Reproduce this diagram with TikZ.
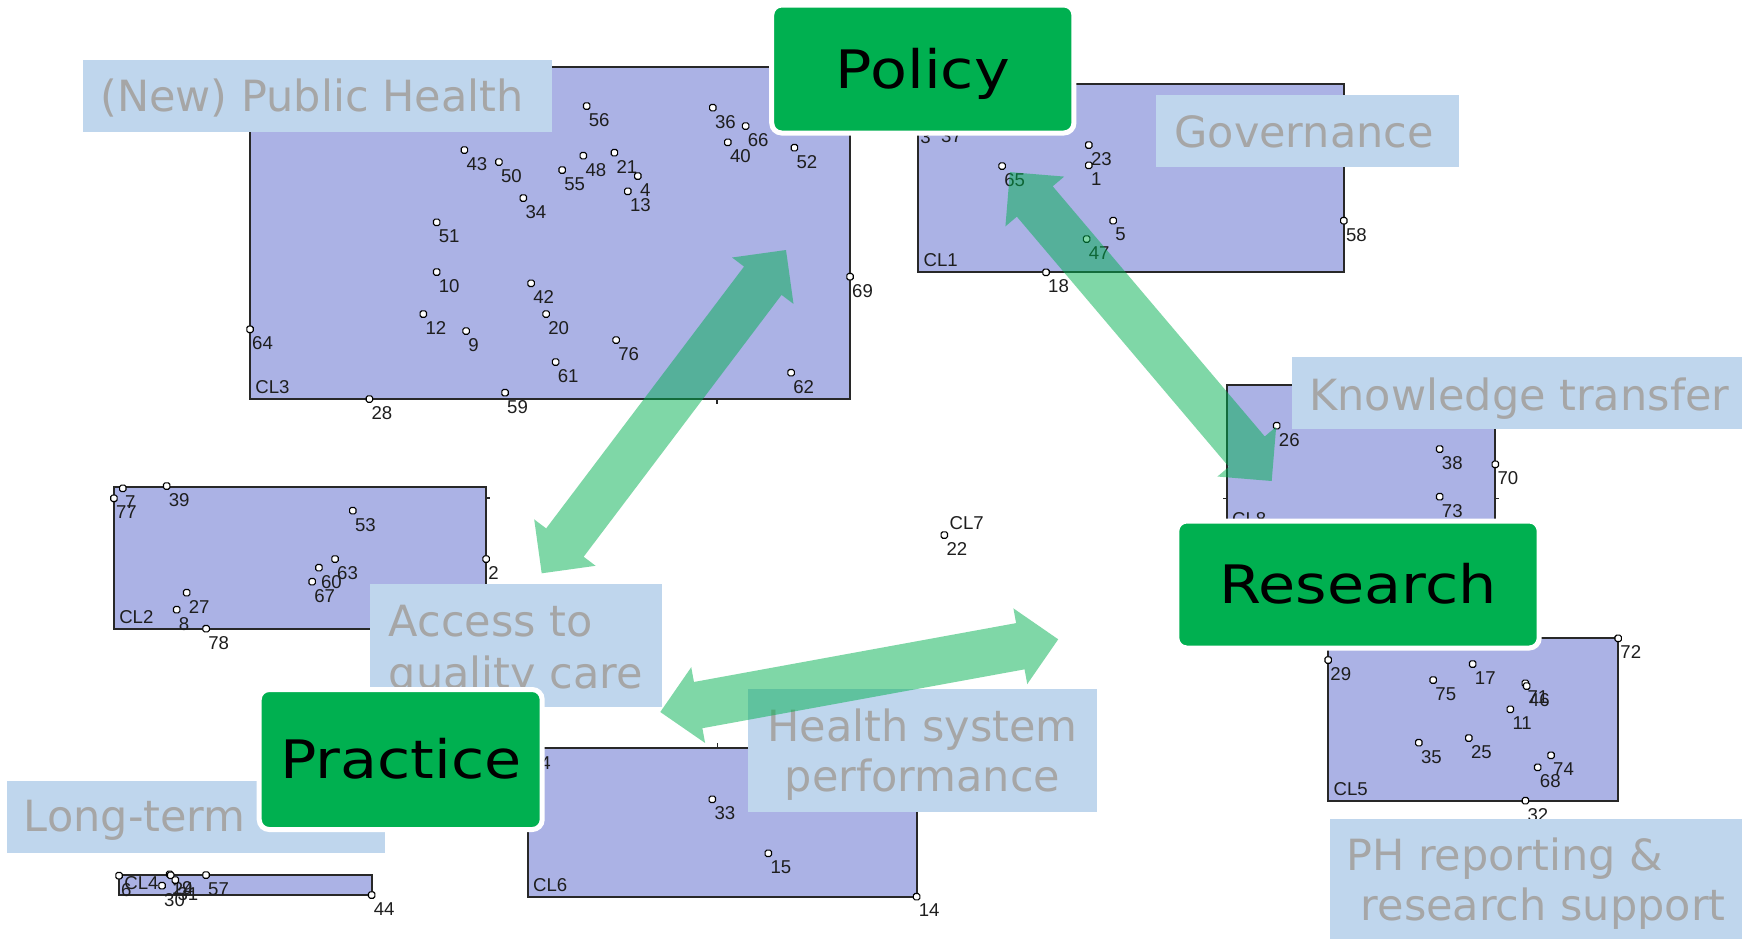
\documentclass[tikz,border=0pt]{standalone}
\usepackage{fontspec}
\setmainfont{Liberation Sans}
\newfontfamily\lblfont{DejaVu Sans}
\newfontfamily\grnfont{DejaVu Sans}[FakeStretch=1.14]
\usetikzlibrary{calc}
\definecolor{clfill}{RGB}{171,178,229}
\definecolor{clline}{RGB}{40,40,40}
\definecolor{boxblue}{RGB}{191,214,237}
\definecolor{lblgray}{RGB}{166,166,166}
\definecolor{pgreen}{RGB}{0,176,80}
\definecolor{numcol}{RGB}{30,30,30}
\tikzset{
  clrect/.style={fill=clfill, draw=clline, line width=1pt},
  tickline/.style={draw=clline, line width=0.7pt},
  mk/.style={rectangle, rounded corners=0.8pt, minimum size=3.2pt, inner sep=0pt, fill=white, draw=black, line width=0.55pt},
  num/.style={inner sep=0pt, font=\fontsize{9.3}{11}\selectfont, text=numcol},
  lblbox/.style={fill=boxblue},
  lbltxt/.style={inner sep=0pt, font=\lblfont\fontsize{21.5}{26}\selectfont, text=lblgray},
  grnbox/.style={rectangle, rounded corners=5pt, fill=pgreen, draw=white, line width=2.5pt, inner sep=0pt, font=\grnfont\fontsize{26.5}{32}\selectfont, text=black, text height=19.3pt, text depth=0pt},
  arrowfill/.style={fill=pgreen, fill opacity=0.5},
}
\newcommand\pnt[3]{%
  \node[mk] (m#3) at (#1,#2) {};
  \node[num, anchor=north west] (n#3) at ($(m#3.center)+(1.8,7)$) {#3};}
\newcommand\dblarrow[3]{%
  \coordinate (#3a) at ($(#1)!19.25pt!(#2)$);
  \coordinate (#3b) at ($(#2)!19.25pt!(#1)$);
  \fill[arrowfill] (#1) -- ($(#3a)!19.25pt!90:(#2)$) -- ($(#3a)!11.75pt!90:(#2)$)
    -- ($(#3b)!11.75pt!-90:(#1)$) -- ($(#3b)!19.25pt!-90:(#1)$) -- (#2)
    -- ($(#3b)!19.25pt!90:(#1)$) -- ($(#3b)!11.75pt!90:(#1)$)
    -- ($(#3a)!11.75pt!-90:(#2)$) -- ($(#3a)!19.25pt!-90:(#2)$) -- cycle;}
\begin{document}
\begin{tikzpicture}[x=0.5pt,y=-0.5pt]
\useasboundingbox (0,0) rectangle (1742,939);
\fill[white] (0,0) rectangle (1742,939);

% ---------- cluster rectangles ----------
\draw[clrect] (250,66.7) rectangle (850,399);
\draw[clrect] (918.2,84) rectangle (1343.8,272.3);
\draw[clrect] (1226.7,385) rectangle (1495.3,531);
\draw[clrect] (1328.2,638.3) rectangle (1618.2,800.7);
\draw[clrect] (113.9,486.7) rectangle (486.1,628.7);
\draw[clrect] (527.8,747.7) rectangle (916.6,896.7);
\draw[clrect] (119,875) rectangle (371.7,895);
% ticks
\draw[tickline] (717,399) -- (717,403.5);
\draw[tickline] (717.5,747.7) -- (717.5,743);
\draw[tickline] (486.1,498) -- (490,498);
\draw[tickline] (1226.7,498.3) -- (1222.7,498.3);
\draw[tickline] (1495.3,498.3) -- (1499.3,498.3);

% ---------- CL3 ----------
\pnt{586.7}{106}{56}
\pnt{712.8}{107.7}{36}
\pnt{745.6}{126}{66}
\pnt{727.8}{142.3}{40}
\pnt{794.4}{147.7}{52}
\pnt{464.4}{150}{43}
\pnt{498.9}{162}{50}
\pnt{583.3}{155.7}{48}
\pnt{614.4}{152.7}{21}
\pnt{562.2}{170}{55}
\pnt{637.8}{176}{4}
\pnt{627.8}{191.3}{13}
\pnt{523.3}{198}{34}
\pnt{436.7}{222.3}{51}
\pnt{436.7}{272}{10}
\pnt{531.1}{283.3}{42}
\pnt{423.3}{314}{12}
\pnt{546.1}{314}{20}
\pnt{466.1}{331}{9}
\pnt{250}{329.3}{64}
\pnt{616.1}{340}{76}
\pnt{555.6}{362}{61}
\pnt{791.1}{372.7}{62}
\pnt{850}{276.7}{69}
\pnt{369.4}{399}{28}
\pnt{505}{392.7}{59}
\node[num, anchor=south west] (cl3) at (255,394) {CL3};

% ---------- CL1 ----------
\pnt{1088.8}{145}{23}
\pnt{1088.8}{165.3}{1}
\pnt{1002.1}{166}{65}
\pnt{1113.2}{220.7}{5}
\pnt{1086.6}{239}{47}
\pnt{1343.8}{220.7}{58}
\pnt{1046}{272.3}{18}
\pnt{918.2}{123}{3}
\pnt{939}{122}{37}
\node[num, anchor=south west] (cl1) at (923.2,267.3) {CL1};

% ---------- CL8 ----------
\pnt{1276.7}{425.7}{26}
\pnt{1439.7}{449}{38}
\pnt{1495.3}{464.3}{70}
\pnt{1439.7}{496.7}{73}
\node[num, anchor=south west] (cl8) at (1231.7,526) {CL8};

% ---------- CL7 ----------
\pnt{944.3}{535}{22}
\node[num, anchor=south west] (cl7) at (949.3,530) {CL7};

% ---------- CL5 ----------
\pnt{1618.2}{638.3}{72}
\pnt{1328.2}{660}{29}
\pnt{1472.7}{664}{17}
\pnt{1433.2}{680}{75}
\pnt{1525.3}{683.3}{71}
\pnt{1526.7}{686}{46}
\pnt{1510.3}{709.3}{11}
\pnt{1418.8}{742.7}{35}
\pnt{1468.8}{738}{25}
\pnt{1551}{755.3}{74}
\pnt{1537.7}{767.3}{68}
\pnt{1525.4}{800.7}{32}
\node[num, anchor=south west] (cl5) at (1333.2,795.7) {CL5};

% ---------- CL2 ----------
\pnt{122.8}{488.3}{7}
\pnt{113.9}{498.3}{77}
\pnt{166.7}{486}{39}
\pnt{352.8}{510.7}{53}
\pnt{335}{559}{63}
\pnt{318.9}{567.7}{60}
\pnt{312.2}{581.7}{67}
\pnt{486.1}{559}{2}
\pnt{186.7}{592.7}{27}
\pnt{176.7}{609.7}{8}
\pnt{206.1}{628.7}{78}
\node[num, anchor=south west] (cl2) at (118.9,623.7) {CL2};

% ---------- CL6 ----------
\pnt{527.8}{749.7}{54}
\pnt{712.3}{799.3}{33}
\pnt{768.3}{853.3}{15}
\pnt{916.6}{896.7}{14}
\node[num, anchor=south west] (cl6) at (532.8,891.7) {CL6};

% ---------- CL4 ----------
\pnt{119}{875.7}{6}
\pnt{169.7}{874.3}{19}
\pnt{170.7}{875.3}{24}
\pnt{175.3}{880}{31}
\pnt{162}{885.7}{30}
\pnt{206}{875}{57}
\pnt{371.7}{895}{44}
\node[num, anchor=south west] (cl4) at (124,890) {CL4};

% ---------- label boxes ----------
\fill[lblbox] (83,60) rectangle (552,132);
\node[lbltxt, anchor=base west] (tph) at (100,111.7) {(New) Public Health};
\fill[lblbox] (1156,95) rectangle (1458.8,166.7);
\node[lbltxt, anchor=base west] (tgov) at (1174,147.7) {Governance};
\fill[lblbox] (1291.7,357.3) rectangle (1742,428.5);
\node[lbltxt, anchor=base west] (tkt) at (1309,410.7) {Knowledge transfer};
\fill[lblbox] (370,584.3) rectangle (662.3,706.7);
\node[lbltxt, anchor=base west] (tacc1) at (388.5,636.7) {Access to};
\node[lbltxt, anchor=base west] (tacc2) at (388.5,688.3) {quality care};
\fill[lblbox] (747.7,689) rectangle (1097.1,811.7);
\node[lbltxt, anchor=base] (thsp1) at (922.5,741.7) {Health system};
\node[lbltxt, anchor=base] (thsp2) at (922.5,791.7) {performance};
\fill[lblbox] (7.2,781) rectangle (385,852.7);
\node[lbltxt, anchor=base west] (tltc) at (23.6,831.7) {Long-term care};
\fill[lblbox] (1329.9,819) rectangle (1742,939);
\node[lbltxt, anchor=base west] (tphr1) at (1345.7,870) {PH reporting \&};
\node[lbltxt, anchor=base west] (tphr2) at (1360.4,920.7) {research support};

% ---------- green boxes ----------
\node[grnbox, minimum width=151.1pt, minimum height=64pt] (policy) at (922.8,69) {Policy};
\node[grnbox, minimum width=181.2pt, minimum height=63.5pt] (research) at (1358,584.5) {Research};
\node[grnbox, minimum width=141.5pt, minimum height=70pt] (practice) at (400.7,759.5) {Practice};

% ---------- arrows ----------
\coordinate (a1s) at (541.7,573.3);
\coordinate (a1e) at (786,250);
\coordinate (a2s) at (1009.9,172.1);
\coordinate (a2e) at (1271.7,481);
\coordinate (a3s) at (660.3,712);
\coordinate (a3e) at (1058.2,639.3);
\dblarrow{a1s}{a1e}{ar1}
\dblarrow{a2s}{a2e}{ar2}
\dblarrow{a3s}{a3e}{ar3}
\end{tikzpicture}
\end{document}
